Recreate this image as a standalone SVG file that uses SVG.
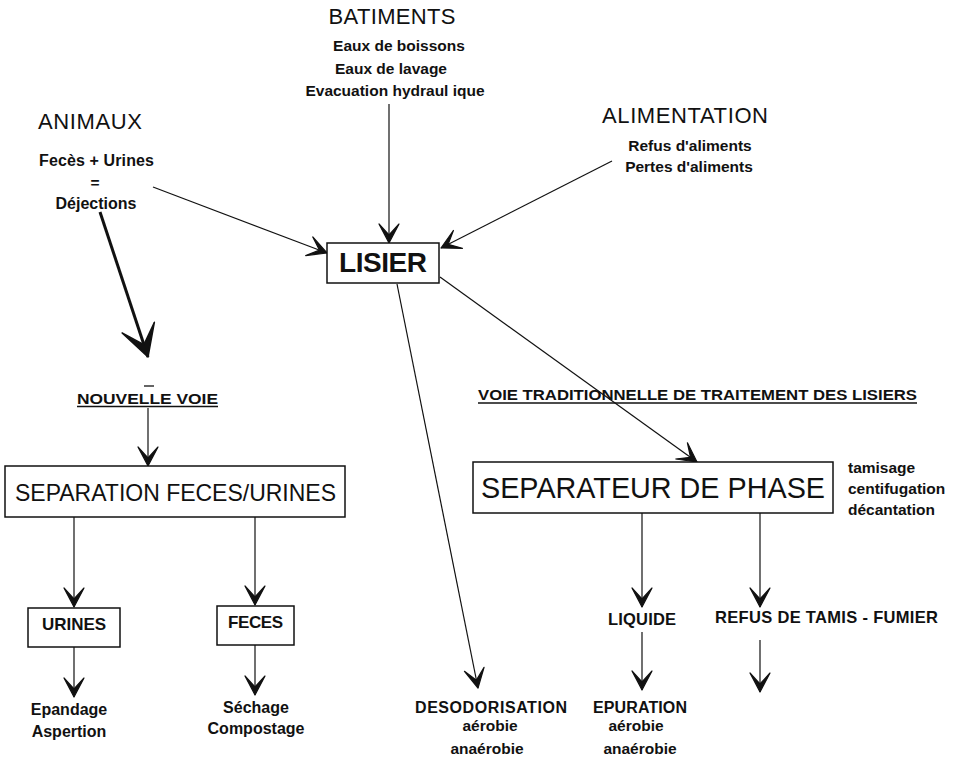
<svg xmlns="http://www.w3.org/2000/svg" width="954" height="761" viewBox="0 0 954 761">
<style>
text{font-family:"Liberation Sans",Arial,Helvetica,sans-serif;fill:#111;}
.h{font-size:22px;}
.b{font-weight:bold;font-size:15.5px;}
.b16{font-weight:bold;font-size:16px;}
.box{fill:#fff;stroke:#111;stroke-width:1.5;}
.c{stroke:#111;stroke-width:1.2;fill:none;}
.u{stroke:#111;stroke-width:1.3;}
</style>
<defs>
<marker id="arr" viewBox="-22 -12 24 24" markerWidth="24" markerHeight="24" refX="0" refY="0" orient="auto" markerUnits="userSpaceOnUse">
<path d="M0,0 L-19,-10 L-8,0 L-19,10 Z" fill="#111" stroke="#111" stroke-width="1.2" stroke-linejoin="round"/>
</marker>
<marker id="bigarr" viewBox="-34 -20 36 40" markerWidth="36" markerHeight="40" refX="0" refY="0" orient="auto" markerUnits="userSpaceOnUse">
<path d="M0,0 L-31,-17 L-13,0 L-31,17 Z" fill="#111" stroke="#111" stroke-width="1.5" stroke-linejoin="round"/>
</marker>
</defs>

<g id="connectors">
<line class="c" x1="389" y1="104" x2="389" y2="243" marker-end="url(#arr)"/>
<line class="c" x1="153" y1="187" x2="327" y2="253" marker-end="url(#arr)"/>
<line class="c" x1="612" y1="161" x2="441" y2="248" marker-end="url(#arr)"/>
<line x1="100" y1="212" x2="148" y2="357" stroke="#111" stroke-width="3" marker-end="url(#bigarr)"/>
<line class="c" x1="440" y1="277" x2="697" y2="462" marker-end="url(#arr)"/>
<line class="c" x1="397" y1="284" x2="478" y2="688" marker-end="url(#arr)"/>
<line class="c" x1="148" y1="408" x2="148" y2="466" marker-end="url(#arr)"/>
<line class="c" x1="74" y1="517" x2="74" y2="607" marker-end="url(#arr)"/>
<line class="c" x1="255" y1="517" x2="255" y2="605" marker-end="url(#arr)"/>
<line class="c" x1="74" y1="647" x2="74" y2="697" marker-end="url(#arr)"/>
<line class="c" x1="255" y1="645" x2="255" y2="695" marker-end="url(#arr)"/>
<line class="c" x1="642" y1="513" x2="642" y2="607" marker-end="url(#arr)"/>
<line class="c" x1="760" y1="513" x2="760" y2="607" marker-end="url(#arr)"/>
<line class="c" x1="642" y1="632" x2="642" y2="690" marker-end="url(#arr)"/>
<line class="c" x1="760" y1="640" x2="760" y2="692" marker-end="url(#arr)"/>
</g>

<g id="batiments">
<text class="h" x="392" y="24" text-anchor="middle" textLength="127">BATIMENTS</text>
<text class="b" x="399" y="51" text-anchor="middle">Eaux de boissons</text>
<text class="b" x="391" y="74" text-anchor="middle">Eaux de lavage</text>
<text class="b" x="395" y="96" text-anchor="middle">Evacuation hydraul ique</text>
</g>

<g id="animaux">
<text class="h" x="38" y="129" textLength="104">ANIMAUX</text>
<text class="b16" x="39" y="166" textLength="115">Fecès + Urines</text>
<text class="b" x="95" y="188" text-anchor="middle" font-size="12">=</text>
<text class="b16" x="96" y="209" text-anchor="middle">Déjections</text>
</g>

<g id="alimentation">
<text class="h" x="602" y="123" textLength="166">ALIMENTATION</text>
<text class="b" x="690" y="151" text-anchor="middle">Refus d'aliments</text>
<text class="b" x="689" y="172" text-anchor="middle">Pertes d'aliments</text>
</g>

<g id="lisier">
<rect class="box" x="327" y="243" width="112" height="40"/>
<text x="383" y="272" text-anchor="middle" font-weight="bold" font-size="28" textLength="88">LISIER</text>
</g>

<g id="nouvelle-voie">
<text x="77" y="404" font-weight="bold" font-size="15.5" textLength="141" lengthAdjust="spacingAndGlyphs">NOUVELLE VOIE</text>
<line class="u" x1="77" y1="406.5" x2="218" y2="406.5"/>
<line class="u" x1="144" y1="386" x2="154" y2="386"/>
</g>

<g id="separation">
<rect class="box" x="5" y="466" width="340" height="51"/>
<text x="15" y="501" font-size="24" textLength="321" lengthAdjust="spacingAndGlyphs">SEPARATION FECES/URINES</text>
</g>

<g id="urines">
<rect class="box" x="28" y="608" width="92" height="39"/>
<text x="74" y="630" text-anchor="middle" font-weight="bold" font-size="17">URINES</text>
</g>

<g id="feces">
<rect class="box" x="217" y="606" width="77" height="39"/>
<text x="255.5" y="628" text-anchor="middle" font-weight="bold" font-size="17" textLength="55">FECES</text>
</g>

<g id="epandage">
<text class="b16" x="69" y="715" text-anchor="middle">Epandage</text>
<text class="b16" x="69" y="737" text-anchor="middle">Aspertion</text>
</g>

<g id="sechage">
<text class="b16" x="256" y="713" text-anchor="middle">Séchage</text>
<text class="b16" x="256" y="734" text-anchor="middle">Compostage</text>
</g>

<g id="voie-traditionnelle">
<text x="478" y="400" font-weight="bold" font-size="15.5" textLength="439" lengthAdjust="spacingAndGlyphs">VOIE TRADITIONNELLE DE TRAITEMENT DES LISIERS</text>
<line class="u" x1="478" y1="403" x2="917" y2="403"/>
</g>

<g id="separateur">
<rect class="box" x="473" y="462" width="360" height="51"/>
<text x="481" y="498" font-size="30" textLength="344" lengthAdjust="spacingAndGlyphs">SEPARATEUR DE PHASE</text>
<text class="b" x="848" y="473">tamisage</text>
<text class="b" x="848" y="494">centifugation</text>
<text class="b" x="848" y="515">décantation</text>
</g>

<g id="liquide">
<text x="642" y="625" text-anchor="middle" font-weight="bold" font-size="16.5" textLength="68">LIQUIDE</text>
</g>

<g id="refus">
<text x="715" y="623" font-weight="bold" font-size="16.5" textLength="223">REFUS DE TAMIS - FUMIER</text>
</g>

<g id="desodorisation">
<text class="b16" x="491" y="713" text-anchor="middle" textLength="152">DESODORISATION</text>
<text class="b" x="490" y="731" text-anchor="middle">aérobie</text>
<text class="b" x="487" y="754" text-anchor="middle">anaérobie</text>
</g>

<g id="epuration">
<text class="b16" x="640" y="713" text-anchor="middle" textLength="94">EPURATION</text>
<text class="b" x="636" y="731" text-anchor="middle">aérobie</text>
<text class="b" x="640" y="754" text-anchor="middle">anaérobie</text>
</g>
</svg>
